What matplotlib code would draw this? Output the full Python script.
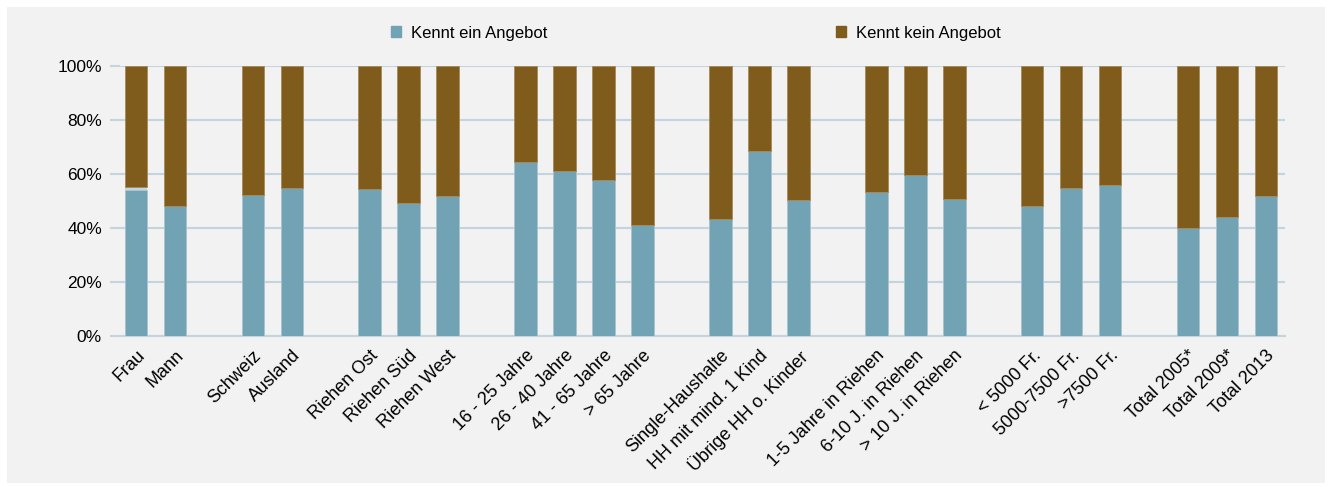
import matplotlib
matplotlib.use("Agg")
import matplotlib.pyplot as plt
from matplotlib.patches import Rectangle, Patch
import numpy as np

plt.rcParams["font.family"] = ["Liberation Sans", "DejaVu Sans"]

# groups of categories, an empty slot is left between groups
groups = [
    ["Frau", "Mann"],
    ["Schweiz", "Ausland"],
    ["Riehen Ost", "Riehen Süd", "Riehen West"],
    ["16 - 25 Jahre", "26 - 40 Jahre", "41 - 65 Jahre", "> 65 Jahre"],
    ["Single-Haushalte", "HH mit mind. 1 Kind", "Übrige HH o. Kinder"],
    ["1-5 Jahre in Riehen", "6-10 J. in Riehen", "> 10 J. in Riehen"],
    ["< 5000 Fr.", "5000-7500 Fr.", ">7500 Fr."],
    ["Total 2005*", "Total 2009*", "Total 2013"],
]
kennt = [54.1, 48.2, 52.3, 54.7, 54.4, 49.2, 51.8, 64.5, 61.2, 57.8, 41.2,
         43.3, 68.5, 50.4, 53.3, 59.7, 50.8, 48.0, 54.8, 55.9, 40.0, 43.9, 52.0]
# small unlabeled remainder (only Frau)
other = [1.1] + [0.0] * 22

labels = [c for g in groups for c in g]
pos = []
slot = 0
for g in groups:
    for _ in g:
        pos.append(slot)
        slot += 1
    slot += 1
pos = np.array(pos)
kennt = np.array(kennt)
other = np.array(other)
kein = 100 - kennt - other

BLUE = "#71a3b5"
BROWN = "#7f5c1b"
LIGHT = "#c3d6de"
GRID = "#c3d4dc"

fig = plt.figure(figsize=(13.33, 4.87), dpi=100, facecolor="white")
fig.patches.append(Rectangle((7 / 1333, 4 / 487), 1318 / 1333, 476 / 487,
                             transform=fig.transFigure, facecolor="#f2f2f2",
                             edgecolor="none", zorder=-10))
ax = fig.add_axes([120 / 1333, 1 - 336 / 487, 1165 / 1333, 270 / 487])
ax.set_facecolor("none")

w = 0.58
ax.bar(pos, kennt, w, color=BLUE, edgecolor="#a9c4cf", linewidth=0.6, zorder=3)
ax.bar(pos, other, w, bottom=kennt, color=LIGHT, edgecolor="none", zorder=3)
ax.bar(pos, kein, w, bottom=kennt + other, color=BROWN, edgecolor="#a58a5a",
       linewidth=0.6, zorder=3)

ax.set_xlim(-0.41, 29.49)
ax.set_ylim(0, 100)
ax.set_yticks(np.arange(0, 101, 20))
ax.set_yticklabels([f"{v}%" for v in range(0, 101, 20)], fontsize=12.5)
ax.yaxis.grid(True, color=GRID, linewidth=1.5, zorder=0)
ax.tick_params(axis="y", length=7, width=1.5, color=GRID, pad=6)
ax.tick_params(axis="x", length=0, pad=8)
ax.set_xticks(pos)
ax.set_xticklabels(labels, rotation=45, ha="right", rotation_mode="anchor",
                   fontsize=13)
for s in ["top", "right", "left"]:
    ax.spines[s].set_visible(False)
ax.spines["bottom"].set_color(GRID)
ax.spines["bottom"].set_linewidth(1.5)

handles = [Patch(color=BLUE, label="Kennt ein Angebot"),
           Patch(color=BROWN, label="Kennt kein Angebot")]
fig.legend(handles=handles, loc="center", bbox_to_anchor=(0.522, 0.932), ncol=2,
           frameon=False, fontsize=12, handlelength=0.6, handleheight=0.6,
           handletextpad=0.6, columnspacing=17.3)

fig.savefig("out.png", dpi=100, facecolor="white")
